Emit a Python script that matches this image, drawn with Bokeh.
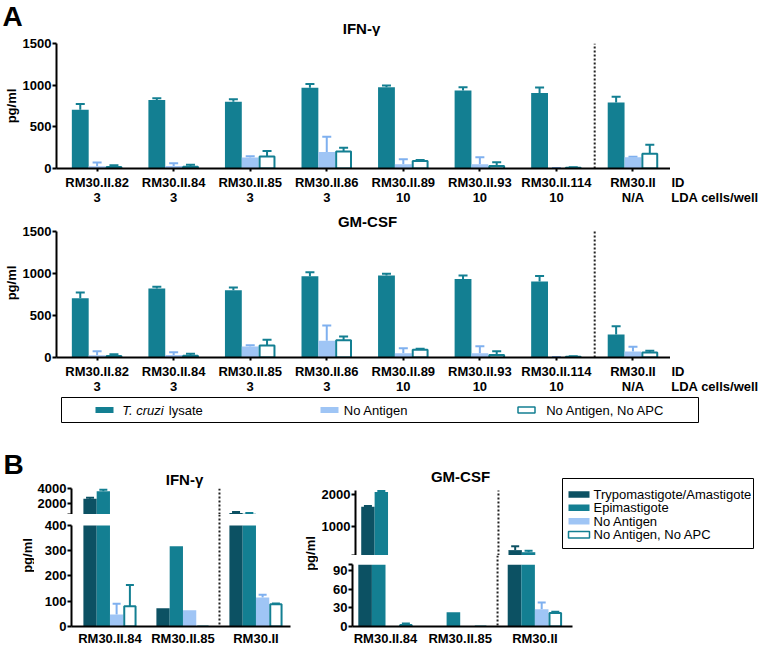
import numpy as np
from bokeh.plotting import figure
from bokeh.models import (Range1d, FixedTicker, LinearAxis, Label, Span, Whisker, TeeHead,
                          ColumnDataSource, BoxAnnotation, Spacer)
from bokeh.layouts import column, row
from bokeh.embed import file_html
from bokeh.resources import INLINE

# ---------------- data: panel A ----------------
ids_a = ["RM30.II.82", "RM30.II.84", "RM30.II.85", "RM30.II.86",
         "RM30.II.89", "RM30.II.93", "RM30.II.114", "RM30.II"]
lda_a = ["3", "3", "3", "3", "10", "10", "10", "N/A"]
series_a = ["T. cruzi lysate", "No Antigen", "No Antigen, No APC"]
ticks_a = [0, 500, 1000, 1500]

ifn_lysate     = [706, 822, 802, 968, 976, 936, 905, 793]
ifn_lysate_err = [68, 20, 30, 47, 20, 40, 66, 68]
ifn_noag       = [28, 30, 131, 198, 51, 51, 4, 134]
ifn_noag_err   = [45, 33, 15, 183, 60, 84, 3, 6]
ifn_noapc      = [19, 20, 143, 204, 91, 30, 10, 178]
ifn_noapc_err  = [20, 24, 67, 46, 12, 45, 5, 108]

gm_lysate      = [706, 822, 802, 968, 976, 936, 905, 274]
gm_lysate_err  = [68, 20, 30, 47, 20, 40, 66, 99]
gm_noag        = [28, 30, 131, 198, 51, 51, 4, 71]
gm_noag_err    = [45, 33, 15, 183, 60, 84, 3, 56]
gm_noapc       = [19, 20, 143, 204, 91, 30, 10, 60]
gm_noapc_err   = [20, 24, 67, 46, 12, 45, 5, 20]

# ---------------- data: panel B ----------------
ids_b = ["RM30.II.84", "RM30.II.85", "RM30.II"]
series_b = ["Trypomastigote/Amastigote", "Epimastigote", "No Antigen", "No Antigen, No APC"]
b_ifn_trypo     = [2614, 72, 614]
b_ifn_trypo_err = [120, 0, 140]
b_ifn_epi       = [3657, 318, 514]
b_ifn_epi_err   = [200, 0, 95]
b_ifn_noag      = [47, 64, 115]
b_ifn_noag_err  = [43, 0, 11]
b_ifn_noapc     = [80, 0, 88]
b_ifn_noapc_err = [84, 0, 3]
b_ifn_upper_ticks = [400, 2000, 4000]
b_ifn_lower_ticks = [0, 100, 200, 300, 400]

b_gm_trypo      = [1623, 0, 268]
b_gm_trypo_err  = [25, 0, 120]
b_gm_epi        = [2087, 23, 203]
b_gm_epi_err    = [25, 0, 45]
b_gm_noag       = [0, 0, 28]
b_gm_noag_err   = [0, 0, 11]
b_gm_noapc      = [2.5, 0, 22]
b_gm_noapc_err  = [2.5, 0, 2]
b_gm_upper_ticks = [100, 1000, 2000]
b_gm_lower_ticks = [0, 30, 60, 90, 100]

# ---------------- styling / geometry ----------------
TEAL = "#137f92"
DARK = "#0c5163"
LIGHT = "#9fc5f5"
LIGHT_ERR = "#7fb0ef"
FONT = "Liberation Sans"


def r(v):
    return int(round(v))


def make_fig(canvas, frame, xr=(0, 1), yr=(0, 1)):
    cx0, cy0, cx1, cy1 = canvas
    fx0, fy0, fx1, fy1 = frame
    p = figure(width=r(cx1) - r(cx0), height=r(cy1) - r(cy0),
               x_range=Range1d(*xr), y_range=Range1d(*yr),
               output_backend="svg", toolbar_location=None, tools="",
               x_axis_location=None, y_axis_location=None,
               min_border_left=r(fx0) - r(cx0), min_border_right=r(cx1) - r(fx1),
               min_border_top=r(fy0) - r(cy0), min_border_bottom=r(cy1) - r(fy1))
    p.outline_line_color = None
    p.xgrid.visible = False
    p.ygrid.visible = False
    p.background_fill_color = "white"
    p.border_fill_color = "white"
    return p, (fx0, fy1)


def label(p, fr, x, y, text, size, style="bold", align="left", angle=0.0):
    """y is the vertical centre of the capitals (text_baseline middle)."""
    p.add_layout(Label(x=x - r(fr[0]), y=r(fr[1]) - y,
                       x_units="screen", y_units="screen", text=text,
                       text_font=FONT, text_font_size=f"{size}px", text_font_style=style,
                       text_align=align, text_baseline="middle", angle=angle,
                       text_color="black"))


def style_axis(ax):
    ax.axis_line_width = 2
    ax.axis_line_color = "black"
    ax.major_tick_line_width = 2
    ax.major_tick_line_color = "black"
    ax.minor_tick_line_color = None
    ax.major_tick_in = 0
    ax.major_label_text_font = FONT
    ax.major_label_text_font_size = "13px"
    ax.major_label_text_font_style = "bold"
    ax.major_label_text_color = "black"


def add_yaxis(p, ticks, bounds="auto", blank=None, axis_label=None):
    ax = LinearAxis(ticker=FixedTicker(ticks=ticks), bounds=bounds)
    style_axis(ax)
    ax.major_tick_out = 4
    ax.major_label_standoff = 1
    if blank is not None:
        ax.major_label_overrides = {blank: ""}
    if axis_label:
        ax.axis_label = axis_label
        ax.axis_label_text_font = FONT
        ax.axis_label_text_font_size = "13px"
        ax.axis_label_text_font_style = "bold"
        ax.axis_label_text_color = "black"
        ax.axis_label_standoff = 1
    p.add_layout(ax, "left")


def add_xaxis(p, ticks, labels, tick_out=3, standoff=3, line=True):
    ax = LinearAxis(ticker=FixedTicker(ticks=list(ticks)),
                    major_label_overrides={t: s for t, s in zip(ticks, labels)})
    style_axis(ax)
    ax.major_tick_out = tick_out
    ax.major_label_standoff = standoff
    if not line:
        ax.axis_line_color = None
        ax.major_tick_line_color = None
    p.add_layout(ax, "below")
    return ax


def add_err(p, xs, vals, errs, color, size, keep=lambda v: True):
    sel = [i for i in range(len(xs)) if errs[i] > 0 and keep(vals[i])]
    if not sel:
        return
    src = ColumnDataSource(dict(base=[float(xs[i]) for i in sel],
                                lower=[float(vals[i]) for i in sel],
                                upper=[float(vals[i] + errs[i]) for i in sel]))
    p.add_layout(Whisker(source=src, base="base", lower="lower", upper="upper",
                         dimension="height", line_color=color, line_width=2,
                         upper_head=TeeHead(size=size, line_color=color, line_width=2),
                         lower_head=None))


def add_sep(p, loc):
    p.add_layout(Span(location=loc, dimension="height", line_color="#222222",
                      line_width=2, line_dash="2 2"))


def add_sep_seg(p, loc, y0, y1):
    p.segment(x0=[loc], x1=[loc], y0=[y0], y1=[y1], line_color="#222222",
              line_width=2, line_dash="2 2")


def box(p, fr, x0, x1, y0, y1, fill=None, line=None, lw=1.5):
    p.add_layout(BoxAnnotation(left=x0 - r(fr[0]), right=x1 - r(fr[0]),
                               top=r(fr[1]) - y0, bottom=r(fr[1]) - y1,
                               left_units="screen", right_units="screen",
                               top_units="screen", bottom_units="screen",
                               fill_color=fill, fill_alpha=1 if fill else 0,
                               line_color=line if line else "white",
                               line_alpha=1 if line else 0, line_width=lw))


# ---------------- panel A ----------------
GA = 77.3          # px between group centres (reference)
XA = ((50 - 91) / GA, (670 - 91) / GA)
WA = 17 / GA
ID_TICKS = [677.5, 714.5]


def panel_a(canvas, frame, y1500, vals, errs):
    """frame top may lie above the 1500 tick (y1500); the axis is bounded to 0..1500."""
    ytop = 1500 + (y1500 - frame[1]) * 1500 / (frame[3] - y1500)
    p, fr = make_fig(canvas, frame, XA, (0, ytop))
    add_yaxis(p, ticks_a, bounds=(0, 1500), axis_label="pg/ml")
    ticks = list(range(len(ids_a)))
    add_xaxis(p, ticks, ids_a, tick_out=3, standoff=3)
    add_xaxis(p, ticks, lda_a, tick_out=0, standoff=-3, line=False)
    base = np.arange(len(ids_a))
    styles = [dict(fill_color=TEAL, line_color=None),
              dict(fill_color=LIGHT, line_color=None),
              dict(fill_color="white", line_color=TEAL, line_width=2)]
    ecol = [TEAL, LIGHT_ERR, TEAL]
    for k in range(3):
        xs = base + (k - 1) * WA
        w = WA if k < 2 else WA - 2 / GA
        p.vbar(x=xs, top=vals[k], bottom=0, width=w, **styles[k])
    for k in range(3):
        xs = base + (k - 1) * WA
        add_err(p, xs, vals[k], errs[k], ecol[k], 9)
    add_sep_seg(p, 6.5, 0, 1500)
    return p, fr


def id_fig(canvas, frame):
    p, fr = make_fig(canvas, frame, (canvas[0], canvas[2]), (0, 1))
    add_xaxis(p, [ID_TICKS[0]], ["ID"], tick_out=3, standoff=3, line=False)
    add_xaxis(p, [ID_TICKS[1]], ["LDA cells/well"], tick_out=0, standoff=-3, line=False)
    return p


pSA1, frSA1 = make_fig((0, 0, 760, 36), (0, 0, 760, 36))
label(pSA1, frSA1, 2, 15.7, "A", 28)
label(pSA1, frSA1, 361, 27.5, "IFN-γ", 15, align="center")

pA1, frA1 = panel_a((0, 36, 670, 207), (50, 43.3, 670, 169.3), 43.3,
                    [ifn_lysate, ifn_noag, ifn_noapc], [ifn_lysate_err, ifn_noag_err, ifn_noapc_err])
pID1 = id_fig((670, 36, 760, 207), (670, 43.3, 760, 169.3))

pA2, frA2 = panel_a((0, 207, 670, 396), (50, 208, 670, 357), 231,
                    [gm_lysate, gm_noag, gm_noapc], [gm_lysate_err, gm_noag_err, gm_noapc_err])
label(pA2, frA2, 361, 221, "GM-CSF", 15, align="center")
pID2 = id_fig((670, 207, 760, 396), (670, 208, 760, 357))

# legend A (manual: mixed italic text)
pLA, frLA = make_fig((60, 396, 699, 423), (60, 396, 699, 423))
box(pLA, frLA, 61, 698, 397, 422, line="black", lw=1)
box(pLA, frLA, 95, 113, 406.5, 412.5, fill=TEAL)
label(pLA, frLA, 121.7, 409.5, "T. cruzi", 13, style="italic")
label(pLA, frLA, 168.3, 409.5, "lysate", 13, style="normal")
box(pLA, frLA, 320, 338, 406.5, 412.5, fill=LIGHT)
label(pLA, frLA, 343.3, 409.5, series_a[1], 13, style="normal")
box(pLA, frLA, 517.5, 534.5, 406.5, 412.5, fill="white", line=TEAL)
label(pLA, frLA, 545.7, 409.5, series_a[2], 13, style="normal")

# ---------------- panel B ----------------
WB = 0.182
OFFB = [-1.5 * WB, -0.5 * WB, 0.5 * WB, 1.5 * WB]
STY_B = [dict(fill_color=DARK, line_color=None),
         dict(fill_color=TEAL, line_color=None),
         dict(fill_color=LIGHT, line_color=None),
         dict(fill_color="white", line_color=TEAL, line_width=2)]
ECOL_B = [DARK, TEAL, LIGHT_ERR, TEAL]


def bars_b(pu, pl, vals, errs, ub, ut, lt, gpx):
    base = np.arange(len(ids_b))
    for k in range(4):
        xs = base + OFFB[k]
        v = np.array(vals[k], dtype=float)
        w = WB if k < 3 else WB - 2 / gpx
        pl.vbar(x=xs, top=np.minimum(v, lt), bottom=0, width=w, **STY_B[k])
        pu.vbar(x=xs, top=np.where(v > ub, v, np.nan), bottom=ub, width=w, **STY_B[k])
    for k in range(4):
        xs = base + OFFB[k]
        add_err(pl, xs, vals[k], errs[k], ECOL_B[k], 8, keep=lambda val: val <= lt)
        add_err(pu, xs, vals[k], errs[k], ECOL_B[k], 8, keep=lambda val: val > ub)
    add_sep_seg(pu, 1.5, ub, ut)
    add_sep(pl, 1.5)


# left strip for "B" and the IFN pg/ml label
pLBs, frLBs = make_fig((0, 423, 34, 648), (0, 423, 34, 648))
label(pLBs, frLBs, 3, 464, "B", 28)
label(pLBs, frLBs, 26.5, 555, "pg/ml", 13, align="center", angle=np.pi / 2)

# IFN-gamma B
GI = 74.0
XI = ((68 - 107) / GI, (290 - 107) / GI)
IFN_UP_SCALE = 3600 / (514 - 488.3)          # units per px in the upper segment
IFN_UP_TOP = 4000 + (488.3 - 423) * IFN_UP_SCALE
pBIu, frBIu = make_fig((34, 423, 300, 514), (68, 423, 290, 514), XI, (400, IFN_UP_TOP))
add_yaxis(pBIu, b_ifn_upper_ticks, bounds=(400, 4000), blank=400)
IFN_LOW_TOP = 400 * (630 - 514) / (630 - 525.3)
pBIl, frBIl = make_fig((34, 514, 300, 648), (68, 514, 290, 630), XI, (0, IFN_LOW_TOP))
add_yaxis(pBIl, b_ifn_lower_ticks, bounds=(0, 400))
add_xaxis(pBIl, [0, 1, 2], ids_b, tick_out=0, standoff=4)
bars_b(pBIu, pBIl,
       [b_ifn_trypo, b_ifn_epi, b_ifn_noag, b_ifn_noapc],
       [b_ifn_trypo_err, b_ifn_epi_err, b_ifn_noag_err, b_ifn_noapc_err], 400, 4000, 400, GI)
label(pBIu, frBIu, 181, 478.6, "IFN-γ", 15, align="center")

# pg/ml holder for GM-CSF B (label spans the axis break)
pPG, frPG = make_fig((300, 423, 318, 648), (300, 423, 318, 648))
label(pPG, frPG, 309.5, 553, "pg/ml", 13, align="center", angle=np.pi / 2)

# GM-CSF B
GG = 74.7
GM_UP_BOT = 555
GM_UP_SCALE = 1000 / 32.0
GM_UP_TOP = 100 + (GM_UP_BOT - 423) * GM_UP_SCALE
pBGu, frBGu = make_fig((318, 423, 561, GM_UP_BOT), (352, 423, 561, GM_UP_BOT),
                       ((352 - 385) / GG, (561 - 385) / GG), (100, GM_UP_TOP))
add_yaxis(pBGu, b_gm_upper_ticks, bounds=(100, 2130), blank=100)
GM_LOW_TOP = 100 + (564.6 - GM_UP_BOT) / ((629.3 - 564.6) / 100)
pBGl, frBGl = make_fig((318, GM_UP_BOT, 760, 648), (352, GM_UP_BOT, 572, 629.3),
                       ((352 - 385) / GG, (572 - 385) / GG), (0, GM_LOW_TOP))
add_yaxis(pBGl, b_gm_lower_ticks, bounds=(0, 100), blank=100)
add_xaxis(pBGl, [0, 1, 2], ids_b, tick_out=0, standoff=4)
bars_b(pBGu, pBGl,
       [b_gm_trypo, b_gm_epi, b_gm_noag, b_gm_noapc],
       [b_gm_trypo_err, b_gm_epi_err, b_gm_noag_err, b_gm_noapc_err], 100, 2130, 100, GG)
label(pBGu, frBGu, 457, 476, "GM-CSF", 15, align="center")

# legend B (manual) -- its frame fills the canvas so it lines up with the GM-CSF plot
pLB, frLB = make_fig((561, 423, 760, GM_UP_BOT), (561, 423, 760, GM_UP_BOT))
box(pLB, frLB, 562, 753, 478, 548, line="black", lw=1)
leg_y = [494, 507.3, 520.7, 534.3]
leg_fill = [DARK, TEAL, LIGHT, "white"]
leg_line = [None, None, None, TEAL]
for k in range(4):
    box(pLB, frLB, 568, 589, leg_y[k] - 3.2, leg_y[k] + 3.2, fill=leg_fill[k], line=leg_line[k])
    label(pLB, frLB, 593, leg_y[k], series_b[k], 13, style="normal")

# ---------------- layout ----------------
rowA1 = row(pA1, pID1)
rowA2 = row(pA2, pID2)
legrow = row(Spacer(width=60, height=27), pLA, Spacer(width=61, height=27))
colI = column(pBIu, pBIl)
colG = column(row(pBGu, pLB), pBGl)
brow = row(pLBs, colI, pPG, colG)
root = column(pSA1, rowA1, rowA2, legrow, brow)

open("out.html", "w").write(file_html(root, INLINE))
